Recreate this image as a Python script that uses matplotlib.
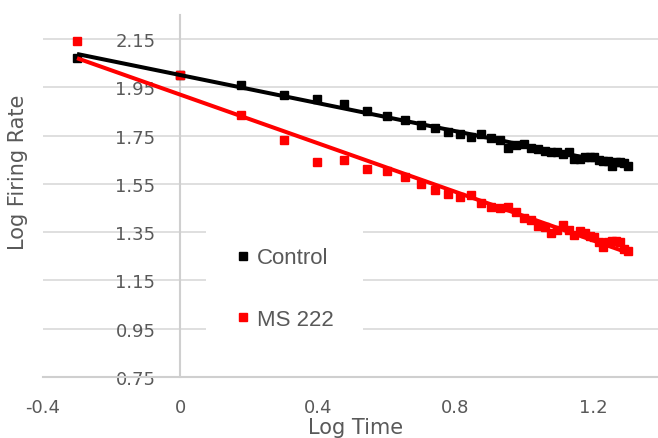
import numpy as np
import matplotlib
matplotlib.use("Agg")
import matplotlib.pyplot as plt
from matplotlib.lines import Line2D

# ---- data ----
times = [0.5, 1, 1.5, 2, 2.5, 3, 3.5, 4, 4.5, 5, 5.5, 6, 6.5, 7, 7.5, 8, 8.5, 9, 9.5, 10,
         10.5, 11, 11.5, 12, 12.5, 13, 13.5, 14, 14.5, 15, 15.5, 16, 16.5, 17, 17.5, 18,
         18.5, 19, 19.5, 20]
control = [2.07, 2.00, 1.96, 1.92, 1.90, 1.88, 1.85, 1.83, 1.815, 1.795,
           1.78, 1.765, 1.755, 1.745, 1.755, 1.74, 1.73, 1.70, 1.71, 1.715,
           1.70, 1.695, 1.685, 1.68, 1.68, 1.675, 1.68, 1.655, 1.655, 1.66,
           1.66, 1.66, 1.65, 1.645, 1.645, 1.625, 1.64, 1.64, 1.635, 1.625]
ms222 = [2.14, 2.00, 1.835, 1.73, 1.64, 1.65, 1.61, 1.605, 1.578, 1.548,
         1.525, 1.508, 1.495, 1.503, 1.47, 1.455, 1.452, 1.456, 1.432, 1.41,
         1.40, 1.375, 1.37, 1.345, 1.36, 1.378, 1.36, 1.338, 1.355, 1.345,
         1.335, 1.33, 1.31, 1.288, 1.31, 1.315, 1.315, 1.31, 1.28, 1.273]
series_names = ["Control", "MS 222"]
series_colors = ["#000000", "#ff0000"]
yticks = [0.75, 0.95, 1.15, 1.35, 1.55, 1.75, 1.95, 2.15]
xticks = [-0.4, 0, 0.4, 0.8, 1.2]
xticklabels = ["-0.4", "0", "0.4", "0.8", "1.2"]

x = np.log10(np.array(times))

W, H = 658, 439
fig = plt.figure(figsize=(W / 100, H / 100), dpi=100)
left_px, right_px, top_px, bot_px = 43, 661.6, 15.85, 378
ax = fig.add_axes([left_px / W, 1 - bot_px / H, (right_px - left_px) / W, (bot_px - top_px) / H])
ax.set_xlim(-0.4, 1.4)
ax.set_ylim(0.75, 2.25)

textc = "#595959"
gridc = "#d9d9d9"

for i, ys in enumerate([control, ms222]):
    ys = np.array(ys)
    ax.plot(x, ys, linestyle="none", marker="s", markersize=6, color=series_colors[i], zorder=3)
    k, b = np.polyfit(x, ys, 1)
    ax.plot([x[0], x[-1]], [k * x[0] + b, k * x[-1] + b], color=series_colors[i], lw=2.9,
            solid_capstyle="butt", zorder=4)

ax.set_yticks(yticks)
ax.set_yticklabels([f"{v:.2f}" for v in yticks])
ax.set_xticks(xticks)
ax.set_xticklabels(xticklabels)
ax.yaxis.grid(True, color=gridc, lw=1.2)
ax.set_axisbelow(True)

for s in ["top", "right"]:
    ax.spines[s].set_visible(False)
ax.spines["left"].set_position(("data", 0))
ax.spines["left"].set_color("#cfcfcf")
ax.spines["left"].set_linewidth(1.5)
ax.spines["bottom"].set_color("#cfcfcf")
ax.spines["bottom"].set_linewidth(1.5)

ax.tick_params(axis="y", length=0, pad=18, labelsize=13, labelcolor=textc)
ax.tick_params(axis="x", length=0, pad=15, labelsize=13, labelcolor=textc)

ax.set_xlabel("Log Time", fontsize=15, color=textc, va="center")
ax.xaxis.set_label_coords((356 - left_px) / (right_px - left_px), (bot_px - 428) / (bot_px - top_px))
ax.set_ylabel("Log Firing Rate", fontsize=15, color=textc, va="center")
ax.yaxis.set_label_coords((18 - left_px) / (right_px - left_px), (bot_px - 172) / (bot_px - top_px))

handles = [Line2D([], [], linestyle="none", marker="s", markersize=6, color=c) for c in series_colors]
leg = ax.legend(handles, series_names, loc="upper left",
                bbox_to_anchor=(206 / W, 1 - 218.5 / H), bbox_transform=fig.transFigure,
                borderaxespad=0, frameon=True, facecolor="white", edgecolor="none", framealpha=1,
                fancybox=False, borderpad=1.35, labelspacing=1.8, handlelength=0.6,
                handletextpad=0.33, prop={"family": "Liberation Sans", "size": 16})
for t in leg.get_texts():
    t.set_color(textc)

fig.savefig("out.png", dpi=100)
